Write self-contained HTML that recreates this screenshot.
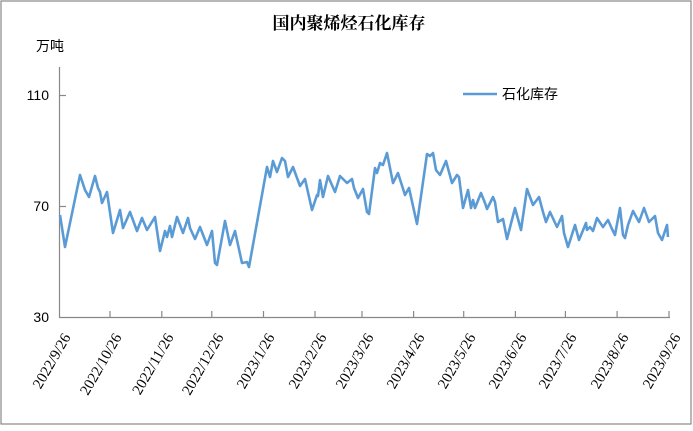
<!DOCTYPE html>
<html><head><meta charset="utf-8"><style>
html,body{margin:0;padding:0;background:#fff;}
</style></head><body>
<svg width="693" height="426" xmlns="http://www.w3.org/2000/svg">
<rect x="1" y="1" width="690" height="423" fill="#fff" stroke="#888" stroke-width="1.2"/>
<text x="349" y="29" text-anchor="middle" font-family="'Liberation Serif','Noto Serif CJK SC',serif" font-weight="bold" font-size="17" fill="#000">国内聚烯烃石化库存</text>
<text x="36" y="51" font-family="'Liberation Sans','Noto Sans CJK SC',sans-serif" font-size="14" fill="#000">万吨</text>
<g font-family="'Liberation Sans',sans-serif" font-size="14" fill="#000" text-anchor="end">
<text x="49" y="100">110</text><text x="49" y="211">70</text><text x="49" y="322">30</text>
</g>
<g stroke="#888" stroke-width="1.2" fill="none">
<line x1="59.5" y1="67" x2="59.5" y2="317.5"/>
<line x1="59" y1="317.5" x2="670" y2="317.5"/>
<line x1="59.5" y1="95.5" x2="66" y2="95.5"/>
<line x1="59.5" y1="206.5" x2="66" y2="206.5"/>
<g id="t">
<line x1="110" y1="317" x2="110" y2="311"/><line x1="161.8" y1="317" x2="161.8" y2="311"/><line x1="211.8" y1="317" x2="211.8" y2="311"/><line x1="263.5" y1="317" x2="263.5" y2="311"/><line x1="315" y1="317" x2="315" y2="311"/><line x1="362" y1="317" x2="362" y2="311"/><line x1="413.6" y1="317" x2="413.6" y2="311"/><line x1="463.7" y1="317" x2="463.7" y2="311"/><line x1="515.4" y1="317" x2="515.4" y2="311"/><line x1="565.4" y1="317" x2="565.4" y2="311"/><line x1="617.1" y1="317" x2="617.1" y2="311"/><line x1="669" y1="317" x2="669" y2="311"/>
</g>
</g>
<g font-family="'Liberation Serif',serif" font-size="15" fill="#000" text-anchor="end">
<text transform="translate(71,337) rotate(-60)">2022/9/26</text>
<text transform="translate(122,337) rotate(-60)">2022/10/26</text>
<text transform="translate(174,337) rotate(-60)">2022/11/26</text>
<text transform="translate(224,337) rotate(-60)">2022/12/26</text>
<text transform="translate(275,337) rotate(-60)">2023/1/26</text>
<text transform="translate(327,337) rotate(-60)">2023/2/26</text>
<text transform="translate(374,337) rotate(-60)">2023/3/26</text>
<text transform="translate(425,337) rotate(-60)">2023/4/26</text>
<text transform="translate(476,337) rotate(-60)">2023/5/26</text>
<text transform="translate(527,337) rotate(-60)">2023/6/26</text>
<text transform="translate(577,337) rotate(-60)">2023/7/26</text>
<text transform="translate(629,337) rotate(-60)">2023/8/26</text>
<text transform="translate(681,337) rotate(-60)">2023/9/26</text>
</g>
<polyline fill="none" stroke="#5B9BD5" stroke-width="2.6" stroke-linejoin="round" points="60,215 65,247 80,175 85,190 89,197 95,176 98,188 100,192 102,203 107,192 113,233 120,210 123,228 130,212 137,231 142,218 147,230 155,217 160,251 165,231 167,237 170,226 172,237 177,217 183,233 188,218 190,228 195,239 200,227 207,245 212,231 215,263 217,265 225,221 230,245 235,231 242,263 247,262 249,267 267,167 270,177 273,161 277,172 282,158 285,161 288,177 293,167 300,186 305,179 312,210 317,195 318,196 320,180 323,197 328,176 335,192 340,176 347,183 352,179 354,188 358,198 363,189 367,212 369,214 375,168 377,173 380,163 383,165 387,153 393,183 398,173 405,195 409,188 417,224 427,154 430,156 433,153 436,170 440,175 446,161 452,183 457,175 459,177 463,208 468,190 471,208 473,200 475,208 481,193 485,203 487,209 493,197 495,202 498,222 503,219 507,239 515,208 521,230 527,189 533,205 539,197 543,212 546,222 550,212 557,227 562,216 564,233 568,247 575,225 579,240 586,223 587,230 590,227 593,231 597,218 603,227 608,220 612,229 615,235 620,208 623,235 625,238 628,225 633,211 639,222 644,208 649,222 655,216 658,233 662,240 667,225 668,237"/>
<line x1="463" y1="94" x2="497" y2="94" stroke="#5B9BD5" stroke-width="2.6"/>
<text x="502" y="99" font-family="'Liberation Sans','Noto Sans CJK SC',sans-serif" font-size="14" fill="#000">石化库存</text>
</svg>
</body></html>
